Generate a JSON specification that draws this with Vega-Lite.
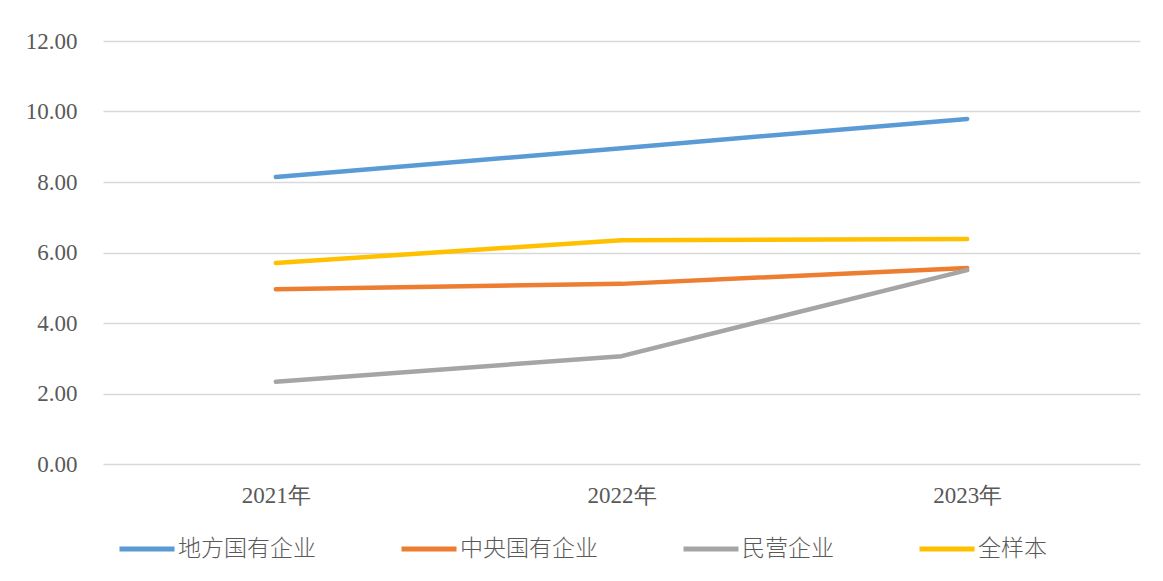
{
  "$schema": "https://vega.github.io/schema/vega-lite/v6.json",
  "width": 1037,
  "height": 423,
  "autosize": {"type": "none"},
  "padding": {"left": 103, "top": 41, "right": 23, "bottom": 117},
  "background": "white",
  "data": {
    "values": [
      {"year": "2021年", "series": "地方国有企业", "value": 8.14},
      {"year": "2022年", "series": "地方国有企业", "value": 8.96},
      {"year": "2023年", "series": "地方国有企业", "value": 9.79},
      {"year": "2021年", "series": "中央国有企业", "value": 4.96},
      {"year": "2022年", "series": "中央国有企业", "value": 5.11},
      {"year": "2023年", "series": "中央国有企业", "value": 5.56},
      {"year": "2021年", "series": "民营企业", "value": 2.33},
      {"year": "2022年", "series": "民营企业", "value": 3.06},
      {"year": "2023年", "series": "民营企业", "value": 5.50},
      {"year": "2021年", "series": "全样本", "value": 5.70},
      {"year": "2022年", "series": "全样本", "value": 6.35},
      {"year": "2023年", "series": "全样本", "value": 6.38}
    ]
  },
  "mark": {"type": "line", "strokeWidth": 4.5, "strokeCap": "round", "strokeJoin": "round"},
  "encoding": {
    "x": {
      "field": "year", "type": "nominal", "sort": null,
      "scale": {"type": "point", "padding": 0.5},
      "axis": {"title": null, "labelAngle": 0, "domain": false, "ticks": false, "grid": false,
               "labelFont": "Liberation Serif", "labelFontSize": 23, "labelColor": "#595959", "labelPadding": 20}
    },
    "y": {
      "field": "value", "type": "quantitative",
      "scale": {"domain": [0, 12], "nice": false},
      "axis": {"title": null, "values": [0, 2, 4, 6, 8, 10, 12], "format": ".2f", "domain": false, "ticks": false,
               "gridColor": "#d9d9d9", "gridWidth": 1.5,
               "labelFont": "Liberation Serif", "labelFontSize": 23, "labelColor": "#595959", "labelPadding": 26}
    },
    "color": {
      "field": "series", "type": "nominal",
      "scale": {"domain": ["地方国有企业", "中央国有企业", "民营企业", "全样本"], "range": ["#5B9BD5", "#ED7D31", "#A5A5A5", "#FFC000"]},
      "legend": {"title": null, "orient": "none", "direction": "horizontal", "legendX": 14, "legendY": 478,
                 "symbolType": "stroke", "symbolSize": 3025, "symbolStrokeWidth": 5,
                 "labelFont": "Noto Sans CJK SC", "labelFontSize": 23, "labelColor": "#595959", "labelFontWeight": 300,
                 "labelOffset": 1, "columnPadding": 75, "symbolOffset": 0}
    }
  },
  "config": {"view": {"stroke": null}}
}
